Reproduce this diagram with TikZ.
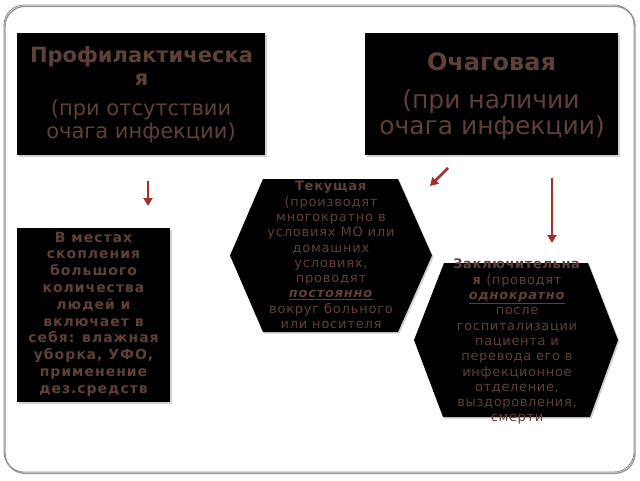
\documentclass[tikz,border=0pt]{standalone}
\usepackage{fontspec}
\setmainfont{DejaVu Sans}
\usetikzlibrary{arrows.meta,shadows,calc}
\definecolor{txt}{HTML}{5E4037}
\definecolor{arr}{HTML}{A3302A}
\definecolor{framec}{HTML}{8C8C8C}
\begin{document}
\begin{tikzpicture}[x=1pt,y=-1pt,
  shad/.style={drop shadow={shadow xshift=1.5pt,shadow yshift=-1.5pt,opacity=0.3,fill=black!60}},
  box/.style={fill=black,draw=none,inner sep=0pt,shad},
  hexa/.style={fill=black,shad},
  txtnode/.style={align=center,text=txt,inner sep=0pt},
  line/.style={text=txt,inner sep=0pt,anchor=base},
  arrow/.style={draw=arr,line width=2pt,-{Triangle[width=9pt,length=8pt]}}]
\useasboundingbox (0,0) rectangle (640,480);
% slide frame
\draw[black!40,line width=1.4pt,rounded corners=20pt] (5,6.3) rectangle (635,473.3);
\draw[framec,line width=0.8pt,rounded corners=20pt] (4,5) rectangle (634,472);
% boxes
\node[box,minimum width=248pt,minimum height=122pt] (prof) at (141,94) {};
\node[box,minimum width=253pt,minimum height=122pt] (ochag) at (491.5,94) {};
\node[box,minimum width=153pt,minimum height=174pt] (mesta) at (93.5,315) {};
% hexagons
\coordinate (h1) at (331,255.5);
\coordinate (h2) at (516,340);
\path[hexa] ($(h1)+(-101,0)$) -- ($(h1)+(-68,-76.5)$) -- ($(h1)+(67,-76.5)$) -- ($(h1)+(101,0)$) -- ($(h1)+(67,76.5)$) -- ($(h1)+(-68,76.5)$) -- cycle;
\path[hexa] ($(h2)+(-102,0)$) -- ($(h2)+(-72,-77)$) -- ($(h2)+(72,-77)$) -- ($(h2)+(102,0)$) -- ($(h2)+(74,77)$) -- ($(h2)+(-73,77)$) -- cycle;
% top-left texts
\node[line,font=\fontsize{21}{23}\selectfont\bfseries] (p1) at (141.5,62) {Профилактическа};
\node[line,font=\fontsize{21}{23}\selectfont\bfseries] (p2) at (141.5,85) {я};
\node[line,font=\fontsize{21}{23}\selectfont] (p3) at (141,115) {(при отсутствии};
\node[line,font=\fontsize{21}{23}\selectfont] (p4) at (141,138) {очага инфекции)};
% top-right texts
\node[line,font=\fontsize{24}{26}\selectfont\bfseries] (o1) at (491.5,70) {Очаговая};
\node[line,font=\fontsize{25}{27}\selectfont] (o2) at (491,108) {(при наличии};
\node[line,font=\fontsize{25}{27}\selectfont] (o3) at (492,134) {очага инфекции)};
% other texts
\node[txtnode,font=\fontsize{14}{16.8}\selectfont\bfseries\addfontfeatures{LetterSpace=7}] (mestat) at (93.5,314)
  {В местах\\скопления\\большого\\количества\\людей и\\включает в\\себя: влажная\\уборка, УФО,\\применение\\дез.средств};
\node[txtnode,font=\fontsize{13}{15.3}\selectfont\addfontfeatures{LetterSpace=6}] (tek) at (331,255)
  {\textbf{Текущая}\\(производят\\многократно в\\условиях МО или\\домашних\\условиях,\\проводят\\\underline{\textbf{\textit{постоянно}}}\\вокруг больного\\или носителя};
\node[txtnode,font=\fontsize{13}{15.3}\selectfont\addfontfeatures{LetterSpace=5}] (zak) at (517,342)
  {\textbf{Заключительна}\\\textbf{я} (проводят\\\underline{\textbf{\textit{однократно}}}\\после\\госпитализации\\пациента и\\перевода его в\\инфекционное\\отделение,\\выздоровления,\\смерти};
% arrows
\coordinate (a1s) at (148,181); \coordinate (a1e) at (148,206);
\coordinate (a2s) at (448,168); \coordinate (a2e) at (430,186);
\coordinate (a3s) at (552,178); \coordinate (a3e) at (552,243);
\draw[arrow] (a1s) -- (a1e);
\draw[arrow,line width=2.6pt] (a2s) -- (a2e);
\draw[arrow] (a3s) -- (a3e);
\end{tikzpicture}
\end{document}
